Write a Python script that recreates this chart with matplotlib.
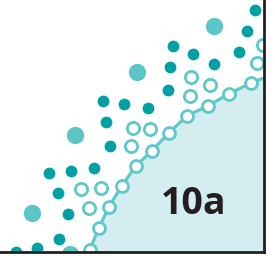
import matplotlib
matplotlib.use("Agg")
import matplotlib.pyplot as plt

# Boundary curve (hollow markers on a line), x and y in chart units
boundary_x = [90, 99, 109, 122, 136, 152, 169, 187, 208, 229, 251]
boundary_y = [2, 24, 45, 66, 86, 101, 119, 136, 146, 158, 169]
# line extension to the axes edges
line_start = (89, 0)
line_end = (264, 174)

# Hollow points off the boundary
hollow_x = [81, 101, 89, 133, 131, 150, 191, 210, 190, 257, 263]
hollow_y = [63, 64, 44, 124, 106, 123, 175, 167, 156, 189, 207]

# Small filled points
dot_x = [255, 247, 193, 239, 214, 173, 170, 168, 148, 103, 124, 106, 110,
         49, 71, 94, 58, 68, 59, 37, 16]
dot_y = [242, 221, 198, 200, 188, 206, 185, 162, 144, 151, 148, 130, 106,
         79, 81, 84, 59, 38, 13, 4, -1]

# Large light points
big_x = [214, 137, 75, 32, 70]
big_y = [226, 180, 117, 39, -3]

label = "10a"

DARK = "#00a0a4"
LIGHT = "#5cc6c7"
RING = "#5fc9ca"
SHADE = "#d4edf1"
INK = "#231f20"

fig = plt.figure(figsize=(2.75, 2.56), dpi=100)
ax = fig.add_axes([0, 1 - 251.5 / 256, 264 / 275, 251.5 / 256])
ax.set_xlim(0, 264)
ax.set_ylim(0, 252)

lx = [line_start[0]] + boundary_x + [line_end[0]]
ly = [line_start[1]] + boundary_y + [line_end[1]]
ax.fill_between(lx + [270], ly + [ly[-1]], 0, color=SHADE, lw=0, zorder=1)
ax.plot(lx, ly, color=RING, lw=2.3, zorder=2, solid_capstyle="butt")
ax.plot(boundary_x, boundary_y, ls="none", marker="o", ms=8.6,
        mfc="white", mec=RING, mew=2.0, zorder=2.2)
ax.plot(hollow_x, hollow_y, ls="none", marker="o", ms=8.8,
        mfc="white", mec=RING, mew=2.0, zorder=2.2)
ax.scatter(dot_x, dot_y, s=72, color=DARK, lw=0, zorder=2.2)
ax.scatter(big_x, big_y, s=155, color=LIGHT, lw=0, zorder=2.2)

ax.text(194, 48, label, ha="center", va="center", fontsize=27,
        fontweight="bold", color=INK, family=["Open Sans", "DejaVu Sans"], zorder=3)

for s in ["left", "top"]:
    ax.spines[s].set_visible(False)
for s in ["right", "bottom"]:
    ax.spines[s].set_color(INK)
    ax.spines[s].set_linewidth(2.0)
    ax.spines[s].set_zorder(5)
ax.set_xticks([])
ax.set_yticks([])
ax.set_facecolor("white")

fig.savefig("out.png", dpi=100)
